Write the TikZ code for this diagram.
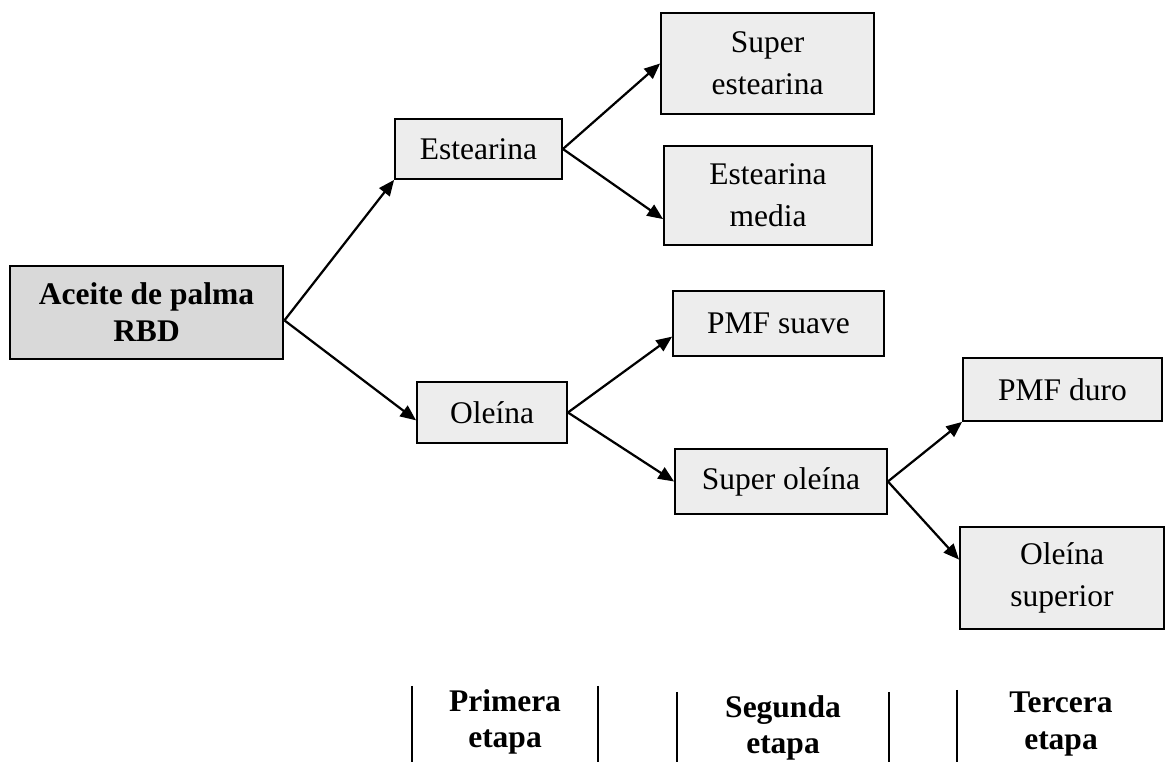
\documentclass[tikz,border=0pt]{standalone}
\usepackage{fontspec}
\setmainfont{Liberation Serif}
\usetikzlibrary{arrows.meta}
\definecolor{boxgray}{HTML}{EDEDED}
\definecolor{rootgray}{HTML}{D9D9D9}
\begin{document}
\begin{tikzpicture}[
    x=0.381pt, y=-0.381pt, >={Triangle[length=6pt,width=5pt]},
    font=\fontsize{12}{16}\selectfont,
    sz/.style 2 args={minimum width=#1*0.381pt, minimum height=#2*0.381pt},
    frac/.style ={rectangle, draw=black, line width=0.7pt, fill=boxgray, align=center, inner sep=0pt},
    root/.style ={frac, fill=rootgray, line width=1.1pt, font=\bfseries\fontsize{12}{14}\selectfont},
    stage/.style={align=center, font=\bfseries\fontsize{12}{14}\selectfont},
    flow/.style ={->, line width=0.85pt},
    rule/.style ={line width=0.8pt},
]
\useasboundingbox (0,0) rectangle (1166,762);
% fracciones
\node[root, sz={273}{93}]   (rbd)    at (146.5,312.5) {Aceite de palma\\RBD};
\node[frac, sz={167}{60}]   (est)    at (478.5,149)   {Estearina};
\node[frac, sz={213}{101}]  (supest) at (767.5,63.5)  {Super\\estearina};
\node[frac, sz={208}{99}]   (estmed) at (768,195.5)   {Estearina\\media};
\node[frac, sz={150}{61}]   (ole)    at (492,412.5)   {Oleína};
\node[frac, sz={211}{65}]   (pmfs)   at (778.5,323.5) {PMF suave};
\node[frac, sz={212}{65}]   (supole) at (781,481.5)   {Super oleína};
\node[frac, sz={199}{63}]   (pmfd)   at (1062.5,389.5) {PMF duro};
\node[frac, sz={204}{102}]  (olesup) at (1062,578)    {Oleína\\superior};
% etapas
\node[stage] (st1) at (505,722)  {Primera\\etapa};
\node[stage] (st2) at (783,728)  {Segunda\\etapa};
\node[stage] (st3) at (1061,724) {Tercera\\etapa};
\draw[flow] ([yshift=-3pt]rbd.east) -- (est.south west);
\draw[flow] ([yshift=-3pt]rbd.east) -- ([yshift=-3pt]ole.west);
\draw[flow] (est.east) -- (supest.west);
\draw[flow] (est.east) -- ([yshift=-9pt]estmed.west);
\draw[flow] (ole.east) -- ([yshift=-5pt]pmfs.west);
\draw[flow] (ole.east) -- (supole.west);
\draw[flow] (supole.east) -- (pmfd.south west);
\draw[flow] (supole.east) -- ([yshift=7pt]olesup.west);
\draw[rule] (412,686) -- (412,762);
\draw[rule] (598,686) -- (598,762);
\draw[rule] (677,692) -- (677,762);
\draw[rule] (889,692) -- (889,762);
\draw[rule] (957,690) -- (957,762);
\end{tikzpicture}
\end{document}
